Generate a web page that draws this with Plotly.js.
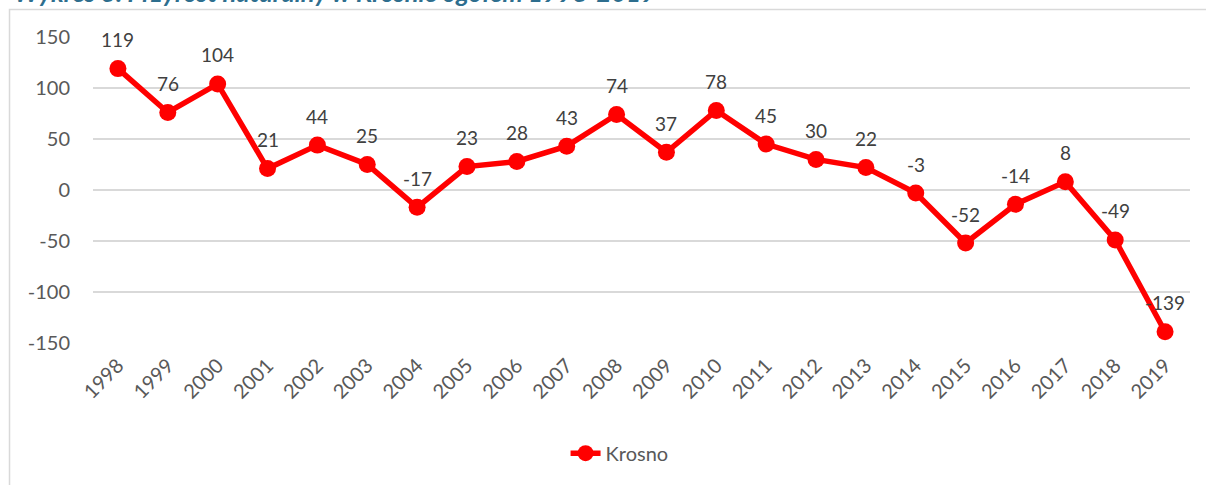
<!DOCTYPE html>
<html>
<head>
<meta charset="utf-8">
<script src="https://cdn.plot.ly/plotly-3.0.1.min.js"></script>
<style>html,body{margin:0;padding:0;background:#fff;}#chart{width:1206px;height:485px;}</style>
</head>
<body>
<div id="chart"></div>
<script>
const years = [1998, 1999, 2000, 2001, 2002, 2003, 2004, 2005, 2006, 2007, 2008, 2009, 2010, 2011, 2012, 2013, 2014, 2015, 2016, 2017, 2018, 2019];
const values = [119, 76, 104, 21, 44, 25, -17, 23, 28, 43, 74, 37, 78, 45, 30, 22, -3, -52, -14, 8, -49, -139];
const seriesName = 'Krosno';
const titleText = 'Wykres 3. Przyrost naturalny w Krośnie ogółem 1998-2019';
const yTicks = [-150, -100, -50, 0, 50, 100, 150];
const yTickLabels = ['-150', '-100', '-50', '0', '50', '100', '150'];

const FONT = 'Lato, "Open Sans", sans-serif';
const trace = {
  x: years, y: values, name: seriesName, type: 'scatter', mode: 'lines+markers',
  line: {color: '#ff0000', width: 5.5},
  marker: {color: '#ff0000', size: 17},
  cliponaxis: false
};
const annotations = years.map((yr, i) => ({
  x: yr, y: values[i], xref: 'x', yref: 'y', text: String(values[i]),
  showarrow: false, yshift: 29, xanchor: 'center', yanchor: 'middle',
  font: {family: FONT, size: 19, color: '#404040'}
}));
annotations.push({
  xref: 'paper', yref: 'paper', x: -0.074, y: 1.093, xanchor: 'left', yanchor: 'bottom',
  text: '<b><i>' + titleText + '</i></b>', showarrow: false,
  font: {family: FONT, size: 25.6, color: '#2e6e8e'}
});
const layout = {
  width: 1206, height: 485,
  margin: {l: 93, r: 16, t: 37, b: 142},
  paper_bgcolor: '#ffffff', plot_bgcolor: '#ffffff',
  showlegend: true,
  legend: {orientation: 'h', x: 0.48, xanchor: 'center', y: -0.36, yanchor: 'middle',
    font: {family: FONT, size: 20, color: '#595959'}},
  xaxis: {type: 'linear', range: [1997.5, 2019.5], tickvals: years, ticktext: years.map(String),
    tickangle: -45, showgrid: false, ticklabelstandoff: 6,
    zeroline: false, showline: false, ticks: '',
    tickfont: {family: FONT, size: 20, color: '#595959'}},
  yaxis: {range: [-150, 150], tickvals: yTicks, ticktext: yTickLabels, showgrid: true, gridcolor: '#d9d9d9', gridwidth: 1.5,
    zeroline: false, showline: false, ticks: '', ticklabelstandoff: 22,
    tickfont: {family: FONT, size: 20, color: '#595959'}},
  shapes: [{type: 'rect', xref: 'paper', yref: 'paper', x0: -0.0761, x1: 1.03, y0: -0.6, y1: 1.0899,
    line: {color: '#d9d9d9', width: 1.5}, fillcolor: 'rgba(0,0,0,0)', layer: 'below'}],
  annotations: annotations
};
Plotly.newPlot('chart', [trace], layout, {displayModeBar: false, staticPlot: true});
</script>
</body>
</html>
